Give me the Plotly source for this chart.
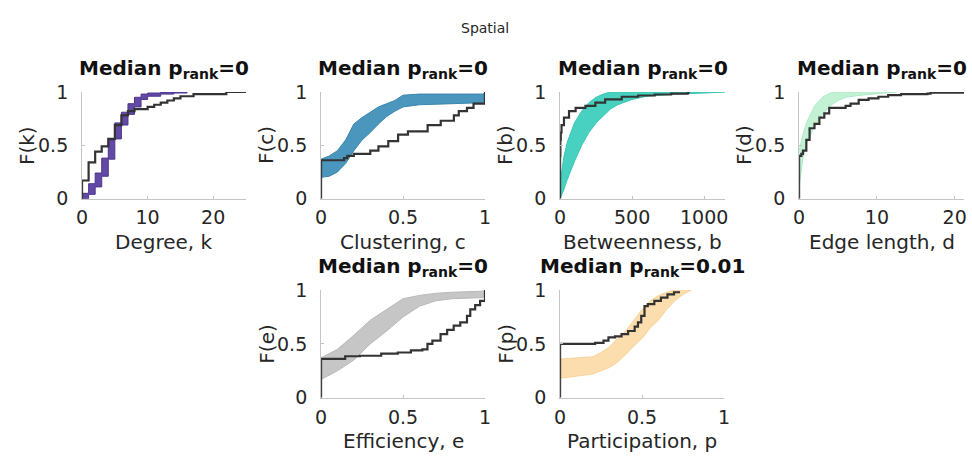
import plotly.graph_objects as go

W, H = 972, 463

# ---- Degree, k ----
deg_k = [0, 0, 1, 2, 3, 4, 5, 6, 7, 8, 10, 11, 12, 13, 14, 15, 17, 22, 25]
deg_F = [0, 0.17, 0.34, 0.44, 0.49, 0.56, 0.69, 0.78, 0.82, 0.84, 0.86, 0.88, 0.90, 0.92, 0.94, 0.96, 0.98, 1.0, 1.0]
deg_null_k = [0, 1, 2, 3, 4, 5, 6, 7, 8, 9, 10, 12, 14, 16]
deg_null_lo = [0.0, 0.04, 0.11, 0.21, 0.37, 0.56, 0.69, 0.79, 0.86, 0.93, 0.96, 0.98, 0.99, 1.0]
deg_null_hi = [0.05, 0.14, 0.24, 0.38, 0.55, 0.71, 0.81, 0.89, 0.95, 0.98, 0.99, 1.0, 1.0, 1.0]

# ---- Clustering, c ----
clu_c = [0, 0, 0.14, 0.16, 0.20, 0.30, 0.35, 0.41, 0.47, 0.53, 0.65, 0.73, 0.81, 0.84, 0.89, 0.93, 1.0, 1.0]
clu_F = [0, 0.36, 0.38, 0.40, 0.42, 0.45, 0.49, 0.54, 0.60, 0.63, 0.69, 0.73, 0.78, 0.82, 0.85, 0.89, 0.89, 1.0]
clu_null_c = [0, 0.05, 0.10, 0.15, 0.20, 0.25, 0.30, 0.35, 0.40, 0.45, 0.50, 0.60, 0.80, 0.99, 1.0]
clu_null_lo = [0.20, 0.21, 0.25, 0.33, 0.45, 0.55, 0.62, 0.70, 0.77, 0.82, 0.86, 0.88, 0.89, 0.90, 1.0]
clu_null_hi = [0.37, 0.40, 0.45, 0.55, 0.70, 0.76, 0.81, 0.86, 0.89, 0.92, 0.97, 0.98, 0.98, 0.98, 1.0]

# ---- Betweenness, b ----
bet_b = [0, 0, 2, 5, 10, 27, 62, 108, 176, 245, 313, 428, 542, 657, 771, 886, 892]
bet_F = [0, 0.40, 0.55, 0.62, 0.69, 0.76, 0.82, 0.85, 0.87, 0.90, 0.93, 0.955, 0.967, 0.976, 0.985, 0.994, 1.0]
bet_null_b = [0, 25, 50, 100, 150, 200, 250, 300, 350, 400, 500, 600, 800, 1000, 1145]
bet_null_lo = [0.0, 0.08, 0.18, 0.35, 0.50, 0.62, 0.71, 0.78, 0.84, 0.88, 0.93, 0.96, 0.98, 0.99, 1.0]
bet_null_hi = [0.14, 0.38, 0.53, 0.71, 0.82, 0.90, 0.95, 0.98, 1.0, 1.0, 1.0, 1.0, 1.0, 1.0, 1.0]

# ---- Edge length, d ----
edg_d = [0, 0, 0.29, 0.5, 0.93, 1.35, 1.98, 2.61, 3.24, 3.87, 5.14, 5.98, 6.61, 7.66, 8.93, 10.2, 11.45, 13.1, 16.5, 16.9, 21.2]
edg_F = [0, 0.40, 0.42, 0.45, 0.55, 0.66, 0.70, 0.76, 0.80, 0.85, 0.85, 0.87, 0.89, 0.925, 0.94, 0.955, 0.97, 0.98, 0.985, 0.994, 1.0]
edg_null_d = [0, 0.5, 1, 2, 3, 4, 5, 6, 8, 10, 12.5]
edg_null_lo = [0.12, 0.38, 0.53, 0.68, 0.79, 0.87, 0.92, 0.95, 0.97, 0.985, 1.0]
edg_null_hi = [0.45, 0.60, 0.72, 0.87, 0.95, 0.99, 1.0, 1.0, 1.0, 1.0, 1.0]

# ---- Efficiency, e ----
eff_e = [0, 0, 0.147, 0.237, 0.367, 0.468, 0.548, 0.618, 0.649, 0.679, 0.729, 0.769, 0.809, 0.849, 0.89, 0.91, 0.94, 0.97, 1.0, 1.0]
eff_F = [0, 0.36, 0.385, 0.39, 0.41, 0.42, 0.44, 0.45, 0.50, 0.53, 0.59, 0.63, 0.67, 0.70, 0.76, 0.82, 0.86, 0.90, 0.91, 1.0]
eff_null_e = [0, 0.1, 0.2, 0.3, 0.4, 0.5, 0.6, 0.7, 0.8, 0.99, 1.0]
eff_null_lo = [0.17, 0.25, 0.35, 0.50, 0.62, 0.75, 0.85, 0.90, 0.92, 0.93, 1.0]
eff_null_hi = [0.37, 0.45, 0.58, 0.72, 0.82, 0.92, 0.95, 0.97, 0.98, 0.99, 1.0]

# ---- Participation, p ----
par_p = [0, 0, 0.204, 0.214, 0.265, 0.295, 0.335, 0.375, 0.415, 0.455, 0.475, 0.495, 0.515, 0.535, 0.575, 0.615, 0.655, 0.695, 0.725]
par_F = [0, 0.50, 0.50, 0.51, 0.53, 0.56, 0.57, 0.59, 0.62, 0.66, 0.70, 0.76, 0.85, 0.87, 0.90, 0.93, 0.96, 0.98, 0.99]
par_null_p = [0, 0.2, 0.25, 0.3, 0.35, 0.4, 0.45, 0.5, 0.55, 0.6, 0.65, 0.7, 0.75, 0.8]
par_null_lo = [0.18, 0.22, 0.25, 0.28, 0.33, 0.40, 0.48, 0.55, 0.65, 0.72, 0.82, 0.90, 0.96, 1.0]
par_null_hi = [0.36, 0.38, 0.42, 0.47, 0.55, 0.62, 0.72, 0.82, 0.90, 0.95, 0.98, 1.0, 1.0, 1.0]

# panel definitions: (x emp, F emp, x null, lo, hi, fill colour, edge colour, discrete?, x range,
#                     ticks, labels, x title, y title, p-value, axes box in px)
panels = [
    (deg_k, deg_F, deg_null_k, deg_null_lo, deg_null_hi, "#6249a4", "#4e3590", True, [0, 25],
     [0, 10, 20], ["0", "10", "20"], "Degree, k", "F(k)", "0", (77, 243, 85, 197)),
    (clu_c, clu_F, clu_null_c, clu_null_lo, clu_null_hi, "#4b96bd", "#3a86ae", False, [0, 1],
     [0, 0.5, 1], ["0", "0.5", "1"], "Clustering, c", "F(c)", "0", (319, 485, 85, 197)),
    (bet_b, bet_F, bet_null_b, bet_null_lo, bet_null_hi, "#48d1c1", "#38c4b4", False, [0, 1145],
     [0, 500, 1000], ["0", "500", "1000"], "Betweenness, b", "F(b)", "0", (561, 728, 85, 197)),
    (edg_d, edg_F, edg_null_d, edg_null_lo, edg_null_hi, "#c2f1d4", "#aeebc5", False, [0, 21.2],
     [0, 10, 20], ["0", "10", "20"], "Edge length, d", "F(d)", "0", (803, 970, 85, 197)),
    (eff_e, eff_F, eff_null_e, eff_null_lo, eff_null_hi, "#c6c6c6", "#b8b8b8", False, [0, 1],
     [0, 0.5, 1], ["0", "0.5", "1"], "Efficiency, e", "F(e)", "0", (319, 485, 293, 406)),
    (par_p, par_F, par_null_p, par_null_lo, par_null_hi, "#fcdeae", "#f8d39a", False, [0, 1],
     [0, 0.5, 1], ["0", "0.5", "1"], "Participation, p", "F(p)", "0.01", (561, 727, 293, 406)),
]

FONT = "DejaVu Sans"
TXT = "#262626"
AX = "#c4c4c4"

fig = go.Figure()
annotations = []

for i, (xe, fe, xn, lo, hi, col, edge, discrete, xr, tv, tt, xt, yt, pv, box) in enumerate(panels):
    n = i + 1
    xa = "x" if n == 1 else f"x{n}"
    ya = "y" if n == 1 else f"y{n}"
    x0, x1, y0, y1 = box
    band_shape = "hv" if discrete else "linear"
    # null-model ensemble envelope
    fig.add_trace(go.Scatter(x=xn, y=lo, xaxis=xa, yaxis=ya, mode="lines",
                             line=dict(color=edge, width=1, shape=band_shape),
                             showlegend=False, hoverinfo="skip"))
    fig.add_trace(go.Scatter(x=xn, y=hi, xaxis=xa, yaxis=ya, mode="lines",
                             line=dict(color=edge, width=1, shape=band_shape),
                             fill="tonexty", fillcolor=col,
                             showlegend=False, hoverinfo="skip"))
    # empirical distribution
    fig.add_trace(go.Scatter(x=xe, y=fe, xaxis=xa, yaxis=ya, mode="lines",
                             line=dict(color="#333333", width=2.2, shape="hv"),
                             showlegend=False))

    axcommon = dict(showgrid=False, zeroline=False, showline=True, linecolor=AX, linewidth=1,
                    ticks="inside", ticklen=3, tickcolor=AX, mirror=False,
                    tickfont=dict(family=FONT, size=19, color=TXT))
    fig.update_layout(**{
        ("xaxis" if n == 1 else f"xaxis{n}"): dict(
            domain=[x0 / W, x1 / W], anchor=ya, range=xr, tickvals=tv, ticktext=tt,
            ticklabelstandoff=2, **axcommon),
        ("yaxis" if n == 1 else f"yaxis{n}"): dict(
            domain=[1 - y1 / H, 1 - y0 / H], anchor=xa, range=[0, 1], tickvals=[0, 0.5, 1],
            ticktext=["0", "0.5", "1"], ticklabelstandoff=9, **axcommon),
    })
    cx = (x0 + x1) / 2
    annotations.append(dict(x=cx / W, y=1 - (y0 - 24) / H, xref="paper", yref="paper",
                            text=f"<b>Median p<sub>rank</sub>=" + pv + "</b>", showarrow=False,
                            xanchor="center", yanchor="middle",
                            font=dict(family=FONT, size=20, color="#111111")))
    annotations.append(dict(x=cx / W, y=1 - (y1 + 45) / H, xref="paper", yref="paper",
                            text=xt, showarrow=False, xanchor="center", yanchor="middle",
                            font=dict(family=FONT, size=20, color=TXT)))
    annotations.append(dict(x=(x0 - 55) / W, y=1 - ((y0 + y1) / 2) / H, xref="paper", yref="paper",
                            text=yt, showarrow=False, xanchor="center", yanchor="middle",
                            textangle=-90, font=dict(family=FONT, size=20, color=TXT)))

annotations.append(dict(x=485 / W, y=1 - 18 / H, xref="paper", yref="paper", text="Spatial",
                        showarrow=False, xanchor="center", yanchor="middle",
                        font=dict(family=FONT, size=14, color=TXT)))

fig.update_layout(width=W, height=H, margin=dict(l=0, r=0, t=0, b=0),
                  paper_bgcolor="white", plot_bgcolor="white",
                  annotations=annotations, showlegend=False)

fig.write_html("out.html")
